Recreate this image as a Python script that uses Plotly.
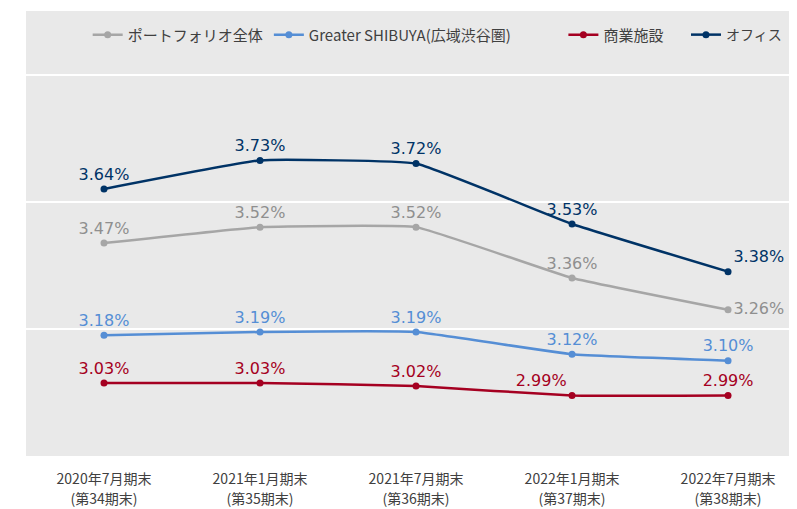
import plotly.graph_objects as go

categories = ["2020年7月期末", "2021年1月期末", "2021年7月期末", "2022年1月期末", "2022年7月期末"]
period_labels = ["(第34期末)", "(第35期末)", "(第36期末)", "(第37期末)", "(第38期末)"]

portfolio = [3.47, 3.52, 3.52, 3.36, 3.26]
shibuya = [3.18, 3.19, 3.19, 3.12, 3.10]
retail = [3.03, 3.03, 3.02, 2.99, 2.99]
office = [3.64, 3.73, 3.72, 3.53, 3.38]

names = ["ポートフォリオ全体", "Greater SHIBUYA(広域渋谷圏)", "商業施設", "オフィス"]
series = [portfolio, shibuya, retail, office]
line_colors = ["#A6A6A6", "#558ED5", "#A50021", "#003366"]
text_colors = ["#8F8F8F", "#558ED5", "#A50021", "#003366"]
positions = [
    ["top center", "top center", "top center", "top center", "middle right"],
    ["top center", "top center", "top center", "top center", "top center"],
    ["top center", "top center", "top center", "top left", "top center"],
    ["top center", "top center", "top center", "top center", "top right"],
]
legend_ids = ["legend", "legend2", "legend3", "legend4"]
legend_x = [0.080, 0.315, 0.697, 0.856]
legend_sizes = [15, 15, 15, 14]

x_idx = list(range(len(categories)))

fig = go.Figure()
for name, vals, lc, tc, pos, lid in zip(names, series, line_colors, text_colors, positions, legend_ids):
    fig.add_trace(go.Scatter(
        x=x_idx, y=vals, name=name, legend=lid,
        mode="lines+markers+text",
        line=dict(color=lc, width=2.5, shape="spline", smoothing=0.3),
        marker=dict(color=lc, size=7),
        text=[f"{v:.2f}%" for v in vals],
        textposition=pos,
        textfont=dict(family="DejaVu Sans", size=16, color=tc),
        cliponaxis=False,
    ))

# empty helper trace so the second category axis (second tick-label line) is drawn
fig.add_trace(go.Scatter(x=[], y=[], xaxis="x2", showlegend=False, hoverinfo="skip"))

fig.update_layout(
    width=797, height=509,
    margin=dict(l=18, r=8, t=3, b=61, autoexpand=False),
    paper_bgcolor="white",
    plot_bgcolor="#E9E9E9",
    font=dict(family="Noto Sans CJK JP", color="#404040"),
    showlegend=True,
    xaxis=dict(
        range=[-0.5, 4.442], tickvals=x_idx, ticktext=categories,
        showgrid=False, zeroline=False, showline=False, ticks="",
        tickfont=dict(size=14, color="#404040"), ticklabelstandoff=13,
    ),
    xaxis2=dict(
        overlaying="x", matches="x", anchor="y", side="bottom",
        tickvals=x_idx, ticktext=period_labels,
        showgrid=False, zeroline=False, showline=False, ticks="",
        tickfont=dict(size=14, color="#404040"), ticklabelstandoff=33,
    ),
    yaxis=dict(
        range=[2.8, 4.2], tickvals=[2.8, 3.2, 3.6, 4.0],
        showticklabels=False, showgrid=True, gridcolor="white", gridwidth=1.5,
        zeroline=False, showline=False, ticks="",
    ),
)
for lid, lx, ls in zip(legend_ids, legend_x, legend_sizes):
    fig.update_layout({lid: dict(
        x=lx, orientation="h", xanchor="left", y=0.946, yanchor="middle",
        bgcolor="rgba(0,0,0,0)", font=dict(size=ls, color="#404040"), itemwidth=30,
    )})

fig.write_html("out.html")
